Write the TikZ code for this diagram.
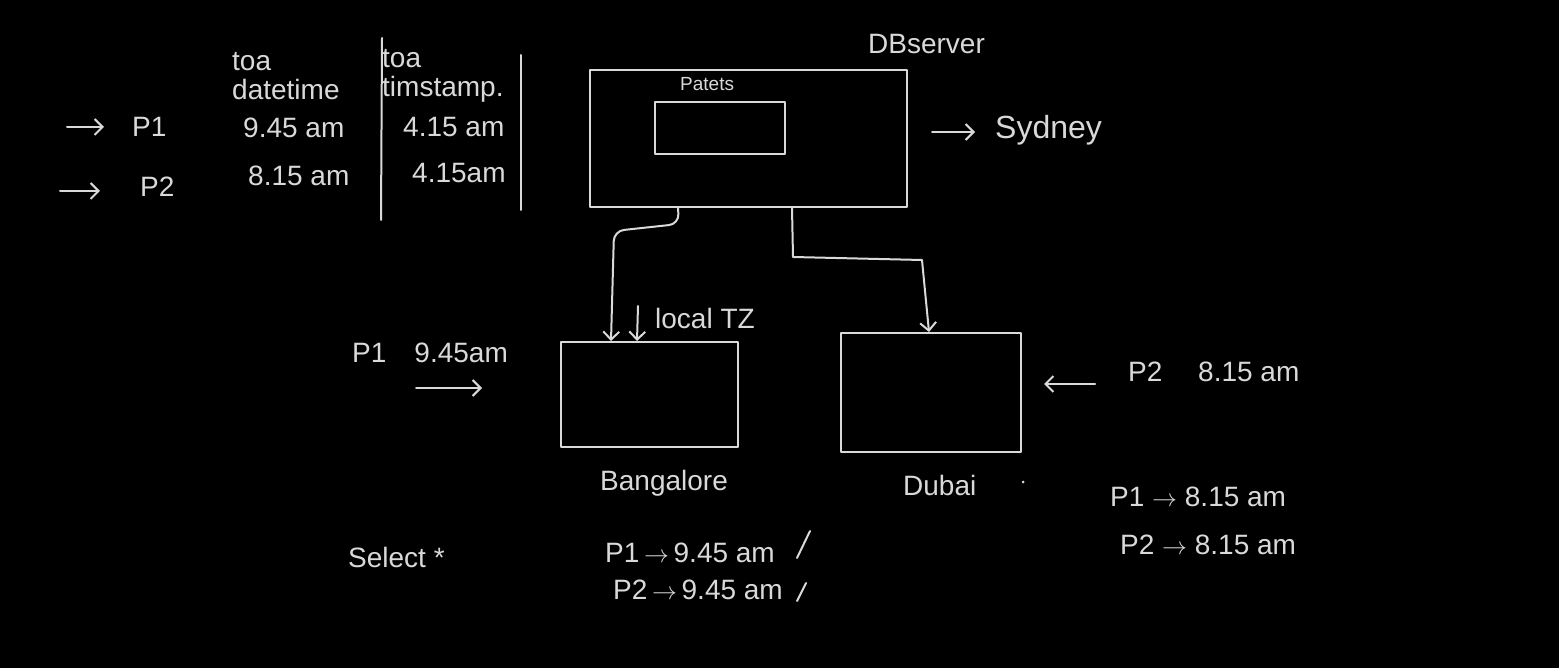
\documentclass[tikz,border=0pt]{standalone}
\usepackage{fontspec}
\setmainfont{Liberation Sans}
\usetikzlibrary{arrows.meta}
\definecolor{ink}{HTML}{D9D9D9}
\begin{document}
\begin{tikzpicture}[x=1pt,y=-1pt,
  ln/.style={draw=ink, line width=2pt, line cap=round, line join=round},
  arr/.style={ln, -{Straight Barb[length=8pt,width=16pt,line width=2pt]}},
  box/.style={ln, rectangle, inner sep=0pt},
  lbl/.style={text=ink, font=\fontsize{28}{29}\selectfont, inner sep=0pt, anchor=west, align=left},
  small/.style={lbl, font=\fontsize{19}{21}\selectfont}]
\fill[black] (0,0) rectangle (1559,668);
\useasboundingbox (0,0) rectangle (1559,668);

% left table
\node[lbl] (p1a) at (132,127) {P1};
\node[lbl] (p2a) at (140,187) {P2};
\coordinate (a1) at (67,127);
\coordinate (a2) at (60,191);
\draw[arr, shorten >=28pt] (a1) -- (a1 -| p1a.west);
\draw[arr, shorten >=40pt] (a2) -- (a2 -| p2a.west);
\node[lbl] (hd1) at (232,76) {toa\\datetime};
\node[lbl] (t945) at (243,128) {9.45 am};
\node[lbl] (t815) at (248,176) {8.15 am};
\draw[ln] (382,38) -- (381,220);
\node[lbl] (hd2) at (382,76) {toa\\timstamp.};
\node[lbl] (t415a) at (403,127) {4.15 am};
\node[lbl] (t415b) at (412,173) {4.15am};
\draw[ln] (521,55) -- (521,210);

% DB server
\node[lbl] (dbl) at (868,44) {DBserver};
\node[box, minimum width=317pt, minimum height=137pt] (db) at (748.5,138.5) {};
\node[small] (pat) at (680,84) {Patets};
\node[box, minimum width=130pt, minimum height=52pt] (tab) at (720,128) {};
\node[lbl, font=\fontsize{32}{34}\selectfont] (syd) at (995,130) {Sydney};
\coordinate (sa) at (932,132);
\draw[arr, shorten >=20pt] (sa) -- (sa -| syd.west);

% regions
\node[box, minimum width=177pt, minimum height=105pt] (bang) at (649.5,394.5) {};
\node[box, minimum width=180pt, minimum height=119pt] (dub) at (931,392.5) {};
\node[lbl] (bangl) at (600,483) {Bangalore};
\node[lbl] (dubl) at (903,485) {Dubai};
\fill[ink] (1023,482) circle (1.5pt);

\draw[arr, rounded corners=10pt] ([xshift=89pt]db.south west) -- (679,224) -- (614,231) -- ([xshift=51pt]bang.north west);
\draw[arr] ([xshift=203pt]db.south west) -- (793,257) -- (922,260) -- ([xshift=89pt]dub.north west);
\coordinate (ltz) at (638,306);
\draw[arr] (ltz) -- ([xshift=77pt]bang.north west);
\node[lbl] (ltzl) at (655,318) {local TZ};

\node[lbl] (p1l) at (352,353) {P1\quad 9.45am};
\coordinate (q1) at (416,388);
\draw[arr, shorten >=78pt] (q1) -- (q1 -| bang.west);
\node[lbl] (p2r) at (1128,372) {P2\quad\ 8.15 am};
\coordinate (q2) at (1095,384);
\draw[arr, shorten >=22pt] (q2) -- (q2 -| dub.east);

\node[lbl] (r1) at (1110,497) {P1 $\rightarrow$ 8.15 am};
\node[lbl] (r2) at (1120,545) {P2 $\rightarrow$ 8.15 am};

\node[lbl] (sel) at (348,557) {Select *};
\node[lbl] (b1) at (605,553) {P1\,$\rightarrow$\,9.45 am};
\node[lbl] (b2) at (613,590) {P2\,$\rightarrow$\,9.45 am};
\draw[ln] (797,558) -- (810,531);
\draw[ln] (797,601) -- (806,583);
\end{tikzpicture}
\end{document}
